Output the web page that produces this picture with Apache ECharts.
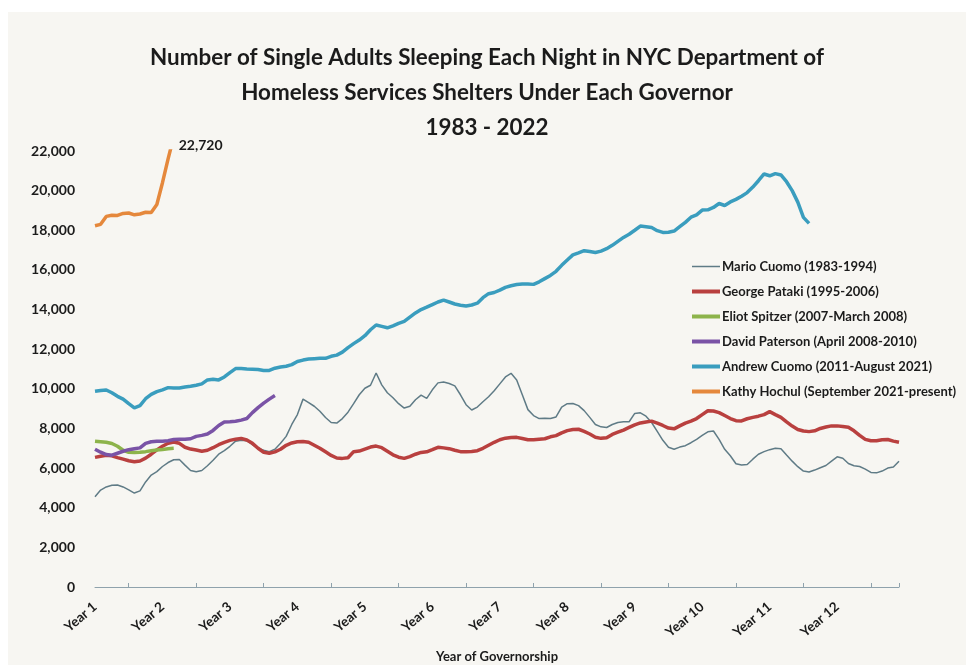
<!DOCTYPE html>
<html>
<head>
<meta charset="utf-8">
<title>Single Adults in NYC DHS Shelters by Governor</title>
<script src="https://cdn.jsdelivr.net/npm/echarts@6.0.0/dist/echarts.min.js"></script>
<style>
  html, body { margin: 0; padding: 0; background: #ffffff; }
  #main { position: absolute; left: 8px; top: 12px; width: 958px; height: 653px; background: #f7f6f2; }
</style>
</head>
<body>
<div id="main"></div>
<script>
// tick labels along the x axis (one per year of governorship, 12 months each)
var yearLabels = ['Year 1', 'Year 2', 'Year 3', 'Year 4', 'Year 5', 'Year 6',
                  'Year 7', 'Year 8', 'Year 9', 'Year 10', 'Year 11', 'Year 12'];

var seriesNames = [
  'Mario Cuomo (1983-1994)',
  'George Pataki (1995-2006)',
  'Eliot Spitzer (2007-March 2008)',
  'David Paterson (April 2008-2010)',
  'Andrew Cuomo (2011-August 2021)',
  'Kathy Hochul (September 2021-present)'
];

// monthly averages
var marioCuomo = [
  4550, 4890, 5050, 5130, 5150, 5050, 4900, 4740, 4850, 5300, 5650, 5820,
  6080, 6280, 6420, 6430, 6150, 5880, 5820, 5880, 6120, 6400, 6700, 6880,
  7100, 7360, 7410, 7380, 7180, 7000, 6900, 6830, 6950, 7250, 7600, 8200,
  8700, 9480, 9300, 9120, 8870, 8550, 8300, 8270, 8500, 8820, 9250, 9700,
  10030, 10180, 10800, 10200, 9800, 9550, 9250, 9030, 9120, 9450, 9680, 9520,
  9950, 10300, 10340, 10270, 10150, 9700, 9200, 8930, 9080, 9350, 9600, 9900,
  10250, 10600, 10780, 10450, 9700, 8950, 8650, 8500, 8510, 8500, 8580, 9080,
  9250, 9260, 9150, 8900, 8560, 8200, 8080, 8050, 8200, 8300, 8340, 8340,
  8760, 8790, 8620, 8300, 7850, 7400, 7050, 6950, 7060, 7130, 7280, 7450,
  7650, 7830, 7870, 7450, 6950, 6620, 6220, 6160, 6180, 6450, 6700, 6830,
  6930, 7000, 6980, 6660, 6350, 6070, 5850, 5800, 5900, 6020, 6130, 6350,
  6570, 6500, 6230, 6120, 6080, 5950, 5780, 5760, 5850, 6000, 6050, 6350
];

var georgePataki = [
  6540, 6600, 6650, 6620, 6530, 6450, 6370, 6320, 6360, 6500, 6700, 6920,
  7100, 7250, 7320, 7250, 7050, 6960, 6910, 6850, 6900, 7030, 7180, 7300,
  7400, 7460, 7500, 7420, 7250, 7000, 6800, 6750, 6820, 6950, 7150, 7270,
  7330, 7340, 7300, 7150, 7000, 6820, 6640, 6510, 6490, 6520, 6830, 6860,
  6960, 7060, 7110, 7030, 6850, 6670, 6550, 6490, 6580, 6700, 6790, 6820,
  6930, 7050, 7020, 6980, 6900, 6830, 6830, 6840, 6880, 7000, 7150, 7300,
  7430, 7510, 7540, 7550, 7490, 7430, 7430, 7460, 7480, 7580, 7640, 7780,
  7890, 7950, 7960, 7850, 7720, 7560, 7500, 7530, 7700, 7810, 7920, 8050,
  8180, 8280, 8330, 8370, 8270, 8150, 8020, 7980, 8130, 8270, 8370, 8500,
  8700, 8890, 8880, 8800, 8650, 8500, 8390, 8380, 8490, 8560, 8620, 8700,
  8850, 8700, 8560, 8330, 8120, 7950, 7870, 7840, 7880, 8000, 8070, 8130,
  8130, 8100, 8060, 7880, 7650, 7450, 7380, 7380, 7430, 7440, 7360, 7300
];

var eliotSpitzer = [
  7360, 7330, 7300, 7240, 7100, 6900, 6800, 6790, 6800, 6830, 6870, 6910,
  6940, 6980, 7000
];

var davidPaterson = [
  6950, 6800, 6680, 6650, 6750, 6850, 6930, 6980, 7020, 7250, 7330, 7360,
  7360, 7380, 7440, 7450, 7450, 7480, 7600, 7650, 7720, 7900, 8150, 8330,
  8340, 8360, 8420, 8500, 8800, 9050, 9280, 9480, 9660
];

var andrewCuomo = [
  9880, 9920, 9940, 9800, 9620, 9480, 9250, 9040, 9150, 9500, 9720, 9860,
  9950, 10060, 10040, 10040, 10090, 10130, 10180, 10250, 10450, 10480, 10450, 10600,
  10820, 11020, 11020, 11000, 10990, 10970, 10920, 10930, 11040, 11100, 11140, 11220,
  11380, 11450, 11500, 11520, 11540, 11540, 11640, 11700, 11850, 12080, 12280, 12460,
  12680, 12980, 13220, 13150, 13080, 13180, 13300, 13400, 13620, 13830, 14000, 14120,
  14250, 14380, 14480, 14380, 14280, 14220, 14180, 14230, 14320, 14600, 14800, 14860,
  14980, 15120, 15200, 15260, 15290, 15290, 15270, 15400, 15560, 15720, 15930, 16230,
  16500, 16760, 16860, 16970, 16930, 16880, 16950, 17070, 17240, 17440, 17640, 17800,
  18000, 18210, 18180, 18140, 17980, 17890, 17900, 17960, 18180, 18400, 18660, 18780,
  19020, 19030, 19150, 19350, 19250, 19430, 19560, 19720, 19900, 20180, 20500, 20840,
  20750, 20860, 20790, 20450, 20000, 19420, 18650, 18350
];

var kathyHochul = [
  18230, 18300, 18700, 18760, 18750, 18850, 18870, 18780, 18820, 18910, 18900, 19300,
  20400, 21600, 22720
];

var colors = ['#5f7b86', '#b9403f', '#8db44b', '#7a53a6', '#3a9dbe', '#e5883c'];
var widths = [1.5, 3.5, 3.5, 3.5, 3.5, 3.5];

// one category per month
var months = [];
for (var i = 0; i < 144; i++) {
  months.push(i % 12 === 0 ? yearLabels[i / 12] : '');
}

var fontFamily = 'Lato, "Open Sans", sans-serif';
var inkColor = '#1b1b1b';

var myChart = echarts.init(document.getElementById('main'));

var allData = [marioCuomo, georgePataki, eliotSpitzer, davidPaterson, andrewCuomo, kathyHochul];
var series = allData.map(function (d, idx) {
  var s = {
    name: seriesNames[idx],
    type: 'line',
    data: d,
    symbol: 'none',
    clip: true,
    lineStyle: { width: widths[idx], color: colors[idx] },
    itemStyle: { color: colors[idx] },
    emphasis: { disabled: true }
  };
  if (idx === 5) {
    // latest value written next to the end of the line
    s.endLabel = {
      show: true,
      offset: [-3, 9],
      formatter: function (p) { return p.value.toLocaleString('en-US'); },
      color: inkColor,
      fontFamily: fontFamily,
      fontWeight: 'bold',
      fontSize: 14
    };
  }
  return s;
});

var legendItems = seriesNames.map(function (n, idx) {
  return { name: n, lineStyle: { width: idx === 0 ? 1.5 : 4 } };
});

myChart.setOption({
  backgroundColor: 'transparent',
  animation: false,
  title: {
    text: 'Number of Single Adults Sleeping Each Night in NYC Department of\nHomeless Services Shelters Under Each Governor\n1983 - 2022',
    left: 'center',
    top: 28,
    padding: [0, 0, 0, 37],
    textStyle: {
      fontFamily: fontFamily,
      fontWeight: 'bold',
      fontSize: 22.4,
      lineHeight: 35,
      color: inkColor
    }
  },
  legend: {
    orient: 'vertical',
    left: 682,
    top: 248,
    padding: 0,
    itemWidth: 28,
    itemHeight: 14,
    itemGap: 12,
    selectedMode: false,
    data: legendItems,
    itemStyle: { opacity: 0 },
    textStyle: {
      fontFamily: fontFamily,
      fontWeight: 'bold',
      fontSize: 13,
      color: inkColor,
      padding: [0, 0, 0, -3]
    }
  },
  grid: { left: 87, right: 67, top: 139, bottom: 78, outerBoundsMode: 'none' },
  xAxis: {
    type: 'category',
    data: months,
    boundaryGap: false,
    name: 'Year of Governorship',
    nameLocation: 'middle',
    nameGap: 63,
    nameTextStyle: { fontFamily: fontFamily, fontWeight: 'bold', fontSize: 13, color: inkColor },
    axisLine: { lineStyle: { color: '#8fa2ac', width: 1 } },
    axisTick: {
      show: true,
      inside: true,
      length: 4,
      interval: function (index) { return index % 12 === 6 || index === 143; },
      lineStyle: { color: '#8fa2ac' }
    },
    axisLabel: {
      interval: function (index) { return index % 12 === 0; },
      rotate: 40,
      margin: 18,
      fontFamily: fontFamily,
      fontWeight: 'bold',
      fontSize: 13.5,
      color: inkColor
    },
    splitLine: { show: false }
  },
  yAxis: {
    type: 'value',
    min: 0,
    max: 22000,
    interval: 2000,
    axisLine: { show: false },
    axisTick: { show: false },
    splitLine: { show: false },
    axisLabel: {
      margin: 20,
      fontFamily: fontFamily,
      fontWeight: 'bold',
      fontSize: 14,
      color: inkColor,
      formatter: function (v) { return v.toLocaleString('en-US'); }
    }
  },
  series: series
});
</script>
</body>
</html>
